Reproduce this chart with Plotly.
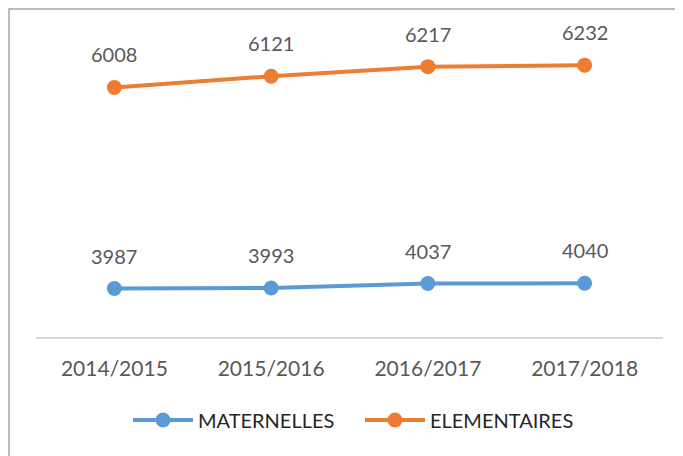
import plotly.graph_objects as go

years = ["2014/2015", "2015/2016", "2016/2017", "2017/2018"]
maternelles = [3987, 3993, 4037, 4040]
elementaires = [6008, 6121, 6217, 6232]

BLUE = "#5B9BD5"
ORANGE = "#ED7D31"
FONT = "Lato, 'Open Sans', sans-serif"

fig = go.Figure()
fig.add_trace(go.Scatter(x=years, y=maternelles, name="MATERNELLES", mode="lines+markers",
                         line=dict(color=BLUE, width=4), marker=dict(size=15, color=BLUE)))
fig.add_trace(go.Scatter(x=years, y=elementaires, name="ELEMENTAIRES", mode="lines+markers",
                         line=dict(color=ORANGE, width=4), marker=dict(size=15, color=ORANGE)))

annotations = []
for series in (maternelles, elementaires):
    for x, v in zip(years, series):
        annotations.append(dict(x=x, y=v, text=str(v), showarrow=False, yshift=33,
                                font=dict(family=FONT, size=20, color="#595959")))

W, H = 683, 456
OFF = 8  # page body margin
# plot area in screen pixels
PL, PR, PT, PB = 36, 663, 20, 337
ml, mt = PL - OFF, PT - OFF
mr, mb = W - (PR - OFF), H - (PB - OFF)
pw, ph = PR - PL, PB - PT

def px_x(p):
    return (p - PL) / pw

def px_y(p):
    return (PB - p) / ph

fig.update_layout(
    width=W, height=H,
    margin=dict(l=ml, r=mr, t=mt, b=mb, autoexpand=False),
    paper_bgcolor="white", plot_bgcolor="white",
    font=dict(family=FONT, size=20, color="#595959"),
    xaxis=dict(showgrid=False, showline=True, linecolor="#D9D9D9", linewidth=1.5,
               range=[-0.5, 3.5], automargin=False,
               ticks="outside", ticklen=12, tickcolor="rgba(0,0,0,0)",
               tickfont=dict(family=FONT, size=21, color="#595959"), zeroline=False),
    yaxis=dict(range=[3500, 6686], visible=False, showgrid=False, zeroline=False, automargin=False),
    showlegend=True,
    legend=dict(orientation="h", x=px_x(128), xanchor="left", y=px_y(420), yanchor="middle",
                font=dict(family=FONT, size=20, color="#262626"), itemwidth=60,
                entrywidth=157, entrywidthmode="pixels",
                bgcolor="rgba(0,0,0,0)"),
    annotations=annotations,
    shapes=[dict(type="rect", xref="paper", yref="paper",
                 x0=px_x(9), x1=px_x(700), y0=px_y(470), y1=px_y(9),
                 line=dict(color="#A6A6A6", width=1.5), fillcolor="rgba(0,0,0,0)", layer="below")],
)

fig.write_html("out.html")
